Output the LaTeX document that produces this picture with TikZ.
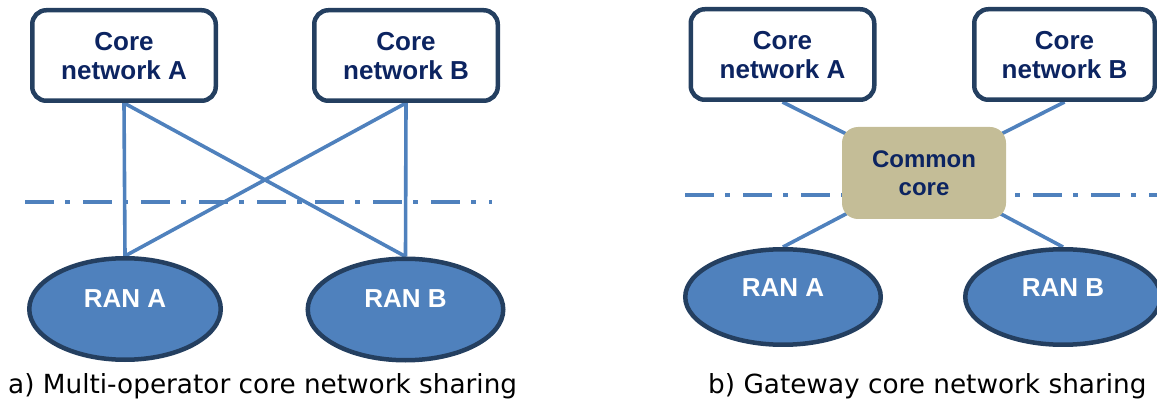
\documentclass[tikz,border=0pt]{standalone}
\usepackage{fontspec}
\setmainfont{Liberation Sans}
\newfontfamily\capfont{DejaVu Sans}
\usetikzlibrary{shapes.geometric,backgrounds}
\definecolor{navy}{RGB}{12,36,97}
\definecolor{boxborder}{RGB}{36,63,96}
\definecolor{linkblue}{RGB}{79,129,189}
\definecolor{ranfill}{RGB}{79,129,189}
\definecolor{khaki}{RGB}{196,189,151}
\tikzset{
  corebox/.style={draw=boxborder, line width=4.5pt, rounded corners=14pt, fill=white,
    minimum width=183.5pt, minimum height=90.5pt, inner sep=0pt, align=center, text=navy,
    text depth=-5pt, font=\fontsize{26}{29}\selectfont\bfseries},
  ran/.style={ellipse, draw=boxborder, line width=4.5pt, fill=ranfill, inner sep=0pt},
  ranlabel/.style={text=white, inner sep=0pt, font=\fontsize{26}{30}\selectfont\bfseries},
  link/.style={draw=linkblue, line width=3.6pt},
  sepline/.style={draw=linkblue, line width=4pt, dash pattern=on 29pt off 11pt on 5pt off 13pt},
  common/.style={fill=khaki, rounded corners=16pt, minimum width=164pt, minimum height=92pt,
    inner sep=0pt, align=center, text=navy, font=\fontsize{24}{28}\selectfont\bfseries},
  caption/.style={anchor=base west, inner sep=0pt, text=black, font=\capfont\fontsize{26.3}{30}\selectfont}
}
\begin{document}
\begin{tikzpicture}[x=1pt,y=-1pt]
\useasboundingbox (0,0) rectangle (1157,403);
% ---- panel a ----
\node[corebox] (A) at (124,55.5) {Core\\network A};
\node[corebox] (B) at (406,55.5) {Core\\network B};
\node[ran, minimum width=191.5pt, minimum height=101.5pt] (RA) at (125,309) {};
\node[ran, minimum width=195.5pt, minimum height=101.5pt] (RB) at (405.5,309.5) {};
\node[ranlabel] (RAt) at (125,299) {RAN A};
\node[ranlabel] (RBt) at (405.5,299) {RAN B};
\coordinate (s1) at (25,202);
\coordinate (s2) at (492,202);
\begin{scope}[on background layer]
  \draw[sepline] (s1) -- (s2);
  \draw[link] (A.south) -- (RA.north);
  \draw[link] (A.south) -- (RB.north);
  \draw[link] (B.south) -- (RB.north);
  \draw[link] (B.south) -- (RA.north);
\end{scope}
\node[caption] (capa) at (8,393) {a) Multi-operator core network sharing};
% ---- panel b ----
\node[corebox] (CA) at (782.5,54.5) {Core\\network A};
\node[corebox, minimum width=180.5pt] (CB) at (1064.5,54.5) {Core\\network B};
\node[common] (CC) at (924,173) {Common\\core};
\node[ran, minimum width=195.5pt, minimum height=95.5pt] (RA2) at (783,297) {};
\node[ran, minimum width=195.5pt, minimum height=95.5pt] (RB2) at (1063,297) {};
\node[ranlabel] (RA2t) at (783,288) {RAN A};
\node[ranlabel] (RB2t) at (1063,288) {RAN B};
\coordinate (t1) at (685,195);
\coordinate (t2) at (1160,195);
\begin{scope}[on background layer]
  \draw[sepline] (t1) -- (t2);
  \draw[link] (CA.south) -- (CC.center);
  \draw[link] (CB.south) -- (CC.center);
  \draw[link] (CC.center) -- (RA2.north);
  \draw[link] (CC.center) -- (RB2.north);
\end{scope}
\node[caption] (capb) at (708,393) {b) Gateway core network sharing};
\end{tikzpicture}
\end{document}
